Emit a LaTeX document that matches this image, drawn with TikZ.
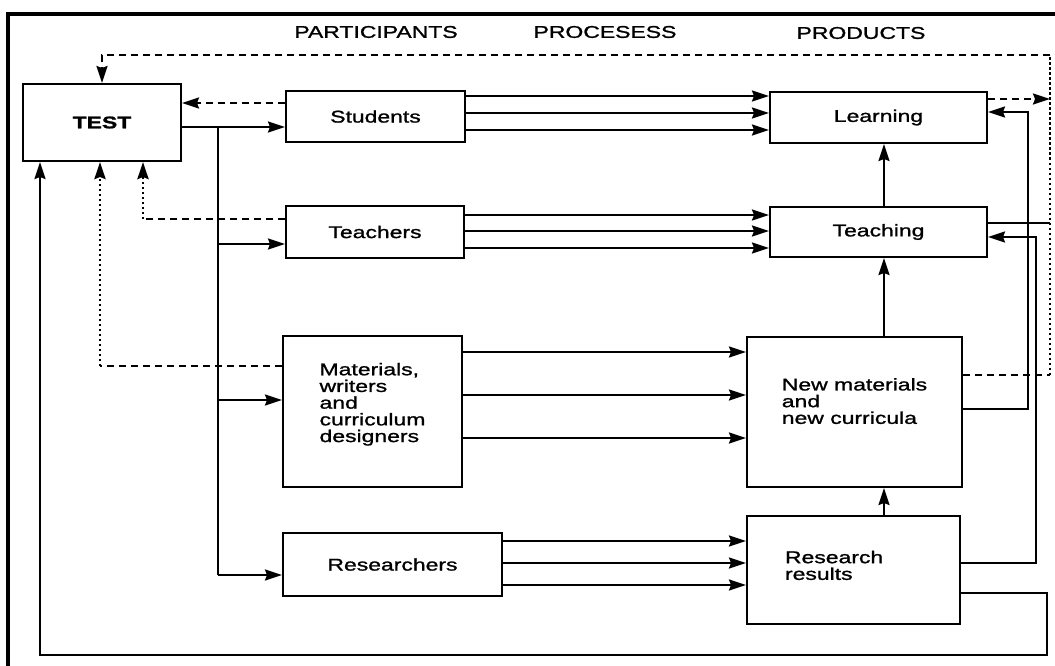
\documentclass[tikz,border=0pt]{standalone}
\usepackage{fontspec}
\setmainfont[FakeStretch=1.35, FakeBold=1.2]{Liberation Sans}
\usetikzlibrary{arrows.meta}

\tikzset{
  box/.style={draw, line width=2pt, inner sep=2pt, font=\fontsize{17}{16.7}\selectfont, align=left},
  heading/.style={font=\fontsize{17}{20}\selectfont},
  tip/.style={-{Stealth[length=17pt,width=11pt,inset=2pt]}},
  link/.style={line width=2.2pt},
  flow/.style={link, tip},
  back/.style={line width=2.2pt, dash pattern=on 7pt off 5pt},
  backdot/.style={line width=2.8pt, dash pattern=on 2.5pt off 2.5pt},
}

\begin{document}
\begin{tikzpicture}[x=1pt, y=-1pt]
\useasboundingbox (0,0) rectangle (1055,666);
\draw[line width=3.5pt] (8,666) -- (8,14) -- (1055,14);

\node[heading] (hpart) at (376,32) {PARTICIPANTS};
\node[heading] (hproc) at (605,32) {PROCESESS};
\node[heading] (hprod) at (861,33) {PRODUCTS};

% participants
\node[box, minimum width=158pt, minimum height=77pt, font=\fontsize{17}{20}\selectfont\bfseries] (test) at (102,122.5) {TEST};
\node[box, minimum width=179pt, minimum height=51pt] (students) at (375.5,116.5) {Students};
\node[box, minimum width=178pt, minimum height=52pt] (teachers) at (375,232) {Teachers};
\node[box, minimum width=179pt, minimum height=151pt, text depth=18pt] (materials) at (372.5,411.5) {Materials,\\writers\\and\\curriculum\\designers};
\node[box, minimum width=219pt, minimum height=63pt] (researchers) at (392.5,564.5) {Researchers};

% products
\node[box, minimum width=217pt, minimum height=51pt] (learning) at (878.5,117.5) {Learning};
\node[box, minimum width=217pt, minimum height=50pt] (teaching) at (878.5,232) {Teaching};
\node[box, minimum width=215pt, minimum height=150pt, text depth=22pt] (newmat) at (854.5,412) {New materials\\and\\new curricula};
\node[box, minimum width=213pt, minimum height=108pt, text width=137pt, text depth=26pt] (results) at (853.5,570) {Research\\results};

% processes
\foreach \y in {96,113,130}
  \draw[flow] (students.east |- 0,\y) -- (learning.west |- 0,\y);
\foreach \y in {215,231,248}
  \draw[flow] (teachers.east |- 0,\y) -- (teaching.west |- 0,\y);
\foreach \y in {352,395,438}
  \draw[flow] (materials.east |- 0,\y) -- (newmat.west |- 0,\y);
\foreach \y in {541,563,585}
  \draw[flow] (researchers.east |- 0,\y) -- (results.west |- 0,\y);

\coordinate (mid) at (884,0);
\draw[flow] (teaching.north -| mid) -- (learning.south -| mid);
\draw[flow] (newmat.north -| mid) -- (teaching.south -| mid);
\draw[flow] (results.north -| mid) -- (newmat.south -| mid);

% test to participants
\coordinate (fork) at (218,127);
\draw[flow] (test.east |- fork) -- (students.west |- fork);
\draw[link] (fork) -- (218,575);
\foreach \y/\n in {244/teachers, 400/materials, 575/researchers}
  \draw[flow] (218,\y) -- (\n.west |- 0,\y);

% feedback to test
\draw[back, tip] (students.west |- 0,103) -- (test.east |- 0,103);
\draw[back] (teachers.west |- 0,219) -- (143,219);
\draw[backdot, tip] (143,219) -- (test.south -| 143,0);
\draw[back] (materials.west |- 0,366) -- (100,366);
\draw[backdot, tip] (100,366) -- (test.south -| 100,0);

\coordinate (edge) at (1050,55);
\draw[backdot] (1050,375) -- (edge);
\draw[back, tip] (edge) -- (102,55) -- (test.north -| 102,0);
\draw[back, tip] (learning.east |- 0,99) -- (edge |- 0,99);
\draw[link] (teaching.east |- 0,223) -- (edge |- 0,223);
\draw[back] (newmat.east |- 0,375) -- (edge |- 0,375);

\draw[flow] (newmat.east |- 0,409) -- (1028,409) -- (1028,112) -- (learning.east |- 0,112);
\draw[flow] (results.east |- 0,563) -- (1036,563) -- (1036,237) -- (teaching.east |- 0,237);
\draw[flow] (results.east |- 0,593) -- (1047,593) -- (1047,655) -- (40,655) -- (test.south -| 40,0);
\end{tikzpicture}
\end{document}
